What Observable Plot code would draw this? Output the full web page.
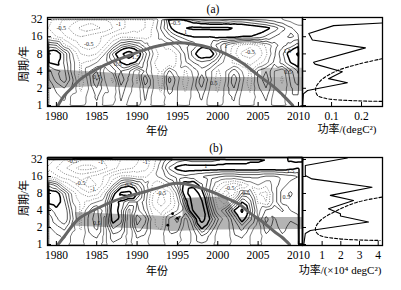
<!DOCTYPE html>
<html><head><meta charset="utf-8">
<script src="https://cdn.jsdelivr.net/npm/d3@7"></script>
<script src="https://cdn.jsdelivr.net/npm/@observablehq/plot@0.6"></script>
<style>
body{margin:0;background:#fff;}
#wrap{position:relative;width:401px;height:290px;overflow:hidden;font-family:"Liberation Serif","Noto Sans CJK SC",serif;color:#000;}
#wrap svg{overflow:visible !important;}
#wrap svg, #wrap svg text{font-family:"Liberation Serif",serif !important;}
.p{position:absolute;}
.lbl{position:absolute;font-size:11px;white-space:nowrap;transform:translate(-50%,-50%);line-height:1;font-family:"Liberation Serif","Noto Sans CJK SC",serif;}
</style></head><body><div id="wrap"></div>
<script>
// ---------- data ----------
const years = [1979,1980,1981,1982,1983,1984,1985,1986,1987,1988,1989,1990,1991,1992,1993,1994,1995,1996,1997,1998,1999,2000,2001,2002,2003,2004,2005,2006,2007,2008,2009,2010];
const periods = [32, 22.6, 16, 11.3, 8, 5.66, 4, 2.83, 2, 1.41, 1];
const xTicks = [1980, 1985, 1990, 1995, 2000, 2005, 2010];
const yTicks = [1, 2, 4, 8, 16, 32];

// panel (a) wavelet coefficient grid, rows = periods (top to bottom), cols = years
const gridA = [
  [-0.4,-0.6,-0.8,-0.9,-1.0,-1.1,-1.1,-1.0,-0.9,-0.8,-0.7,-0.6,-0.5,-0.3, 0.2,1.1,1.3,0.9,0.6,0.4,0.3,0.3,0.4,0.5,0.5,0.4,0.3,0.2,0.1,0.0,-0.1,-0.2],
  [-0.5,-0.7,-0.9,-1.1,-1.3,-1.4,-1.3,-1.2,-1.0,-0.8,-0.7,-0.6,-0.5,-0.2, 0.3,0.9,1.3,1.5,1.6,1.6,1.6,1.6,1.6,1.5,1.4,1.3,1.2,1.1,0.9,0.6,0.3,0.1],
  [-0.3,-0.5,-0.7,-0.9,-1.0,-0.9,-0.8,-0.7,-0.5,-0.3,-0.3,-0.4,-0.4,-0.2, 0.1,0.4,0.7,0.9,1.0,1.0,1.0,1.1,1.1,1.1,1.0,1.0,0.9,0.7,0.5,0.3,0.2,0.3],
  [0.6,0.5,-0.2,-0.5,-0.8,-0.9,-0.8,-0.5,0.0,0.5,0.7,0.5,0.1,-0.2, -0.3,-0.1,0.2,0.4,0.6,0.9,0.8,0.4,0.0,-0.3,-0.6,-0.7,-0.5,-0.2,0.1,0.4,0.6,0.9],
  [1.2,1.3,0.7,0.0,-0.5,-0.6,-0.5,0.0,0.8,1.4,1.8,1.3,0.6,0.0, -0.4,-0.5,-0.2,0.3,0.9,1.3,1.3,0.7,0.0,-0.4,-0.8,-0.9,-0.7,-0.3,0.2,0.7,1.2,1.6],
  [1.0,1.1,0.7,0.1,-0.3,-0.2,0.0,0.1,0.5,1.0,1.2,0.9,0.4,-0.2, -0.5,-0.5,-0.2,0.2,0.5,0.7,0.6,0.2,-0.1,-0.3,-0.5,-0.6,-0.4,-0.1,0.3,0.6,1.0,1.3],
  [0.4,0.7,0.8,0.1,-0.3,0.2,0.5,-0.1,0.1,0.5,0.3,-0.2,0.3,-0.1, -0.3,0.3,-0.1,-0.3,0.1,0.4,0.1,-0.3,0.0,0.4,0.0,-0.3,0.3,0.5,0.0,-0.2,0.4,0.8],
  [0.2,0.6,0.9,0.3,-0.4,0.1,0.8,0.0,-0.3,0.7,0.2,-0.3,0.7,0.0, -0.4,0.6,0.1,-0.4,0.0,0.7,0.1,-0.4,0.0,0.7,0.1,-0.4,0.3,0.7,0.0,-0.3,0.3,0.7],
  [0.1,0.3,0.5,0.2,-0.3,0.0,0.5,0.1,-0.2,0.4,0.1,-0.2,0.4,0.0, -0.3,0.4,0.0,-0.3,0.1,0.5,0.0,-0.3,0.1,0.5,0.0,-0.3,0.2,0.5,0.0,-0.2,0.2,0.4],
  [0.0,0.2,0.3,-0.1,-0.2,0.1,0.3,-0.1,-0.1,0.3,0.0,-0.2,0.3,-0.1, -0.2,0.2,0.0,-0.2,0.1,0.3,-0.1,-0.2,0.1,0.3,-0.1,-0.2,0.1,0.3,-0.1,-0.1,0.2,0.2],
  [0.1,0.1,0.2,-0.1,-0.1,0.1,0.2,-0.1,0.0,0.2,-0.1,-0.1,0.2,-0.1, -0.1,0.1,0.0,-0.1,0.1,0.2,-0.1,-0.1,0.1,0.2,-0.1,-0.1,0.1,0.2,-0.1,-0.1,0.1,0.1]
];
// panel (b)
const gridB = [
  [-0.6,-0.8,-1.0,-1.1,-1.2,-1.3,-1.3,-1.2,-1.1,-1.0,-0.9,-0.8,-0.6,-0.4, 0.0,0.4,0.6,0.7,0.6,0.6,0.6,0.7,0.8,0.8,0.8,0.9,0.9,1.0,1.1,1.3,1.6,1.7],
  [-0.8,-1.0,-1.2,-1.4,-1.6,-1.6,-1.5,-1.3,-1.1,-0.9,-0.8,-0.7,-0.6,-0.3, 0.2,0.8,1.1,1.2,1.2,1.2,1.2,1.2,1.2,1.2,1.2,1.2,1.2,1.2,1.2,1.2,1.1,1.0],
  [-0.5,-0.7,-0.9,-1.0,-1.1,-1.0,-0.9,-0.7,-0.4,-0.2,-0.2,-0.3,-0.3,-0.1, 0.1,0.4,0.6,0.7,0.6,0.5,0.4,0.3,0.2,0.2,0.3,0.3,0.3,0.2,0.2,0.3,0.4,0.5],
  [0.7,0.4,-0.3,-0.6,-0.9,-1.1,-1.0,-0.6,0.0,0.7,0.9,0.6,0.1,-0.3, -0.4,-0.1,0.5,1.2,1.3,0.8,0.3,-0.2,-0.5,-0.7,-0.5,-0.2,0.0,-0.2,0.1,0.4,0.6,0.5],
  [1.3,1.2,0.6,-0.1,-0.5,-0.7,-0.6,-0.1,0.8,1.6,1.7,1.0,0.2,-0.5, -0.8,-0.6,0.1,1.3,2.0,1.2,0.2,-0.5,-0.9,-0.6,0.3,0.2,-0.5,-0.6,0.1,0.6,0.8,0.6],
  [1.1,1.2,0.8,0.0,-0.3,-0.2,0.0,0.2,1.2,0.9,0.5,0.5,0.1,-0.6, -0.9,-0.6,-0.1,0.8,1.8,1.6,0.4,-0.4,-0.6,0.2,1.0,0.6,-0.3,-0.5,0.1,0.6,0.7,0.5],
  [0.6,0.9,1.0,0.2,-0.3,0.2,0.6,0.1,1.3,0.8,-0.1,0.6,0.2,-0.4, -0.6,-0.3,0.0,0.4,1.6,1.9,0.7,-0.2,0.3,1.0,1.6,0.8,-0.1,0.3,0.5,0.2,0.5,0.6],
  [0.3,0.7,1.0,0.3,-0.3,0.3,0.7,-0.1,1.2,0.9,-0.2,0.9,0.6,-0.2, -0.4,0.3,0.6,-0.1,0.6,1.8,1.0,0.3,-0.2,0.5,1.2,0.6,0.0,0.6,0.2,0.5,0.3,0.4],
  [0.2,0.4,0.6,0.1,-0.3,0.3,0.6,-0.1,0.8,0.6,-0.2,0.7,0.4,-0.2, -0.3,0.3,0.4,-0.2,0.3,1.1,0.6,0.0,-0.2,0.3,0.6,0.2,-0.2,0.4,0.1,0.4,0.1,0.2],
  [0.1,0.2,0.3,-0.1,-0.2,0.2,0.3,-0.1,0.4,0.3,-0.2,0.3,0.2,-0.2, -0.1,0.2,0.1,-0.2,0.1,0.5,0.2,-0.1,-0.2,0.2,0.3,0.0,-0.2,0.2,0.0,0.2,0.0,0.1],
  [0.1,0.1,0.1,-0.1,-0.1,0.1,0.1,-0.1,0.2,0.1,-0.1,0.1,0.1,-0.1, -0.1,0.1,0.0,-0.1,0.1,0.2,0.1,-0.1,-0.1,0.1,0.1,0.0,-0.1,0.1,0.0,0.1,0.0,0.1]
];

// contour level labels (year, period, text)
const labYearA = [1980.6,1987.7,1984.0,1989.8,1987.6,1994.8,2001.0,2004.0,2008.6,1985.0,1999.5,2008.7,1996.0];
const labPerA  = [23,27,12,7,5.3,28,11,8.5,9,3.2,2.5,3.8,19];
const labTxtA  = ["-0.5","-1","-0.5","1.5","0.5","-0.5","1","-0.5","1.5","0.5","0.5","0.5","1"];
const labYearB = [1982.0,1985.5,1991.0,1983.0,1984.5,1989.0,1993.0,1998.5,2003.5,2009.0,1985.0,2008.5,2001.5];
const labPerB  = [30,29,29,12,9.5,11.5,8,24,8,20,2.4,7,10];
const labTxtB  = ["-0.5","-1","-1","-0.5","-1","0.5","-0.5","1","0.5","1.5","0.5","0.5","-0.5"];

// cone of influence (year, period)
const coiYearA = [1980.2,1981,1982,1983,1985,1987,1989,1991,1993,1995,1997,1999,2001,2003,2005,2007,2008,2009.3];
const coiPerA  = [1,1.5,2.1,2.9,4.3,5.9,7.5,9.5,11.3,12.5,11.8,10.3,8,5.6,3.4,2.1,1.55,1];
const coiYearB = [1980.2,1981,1982.7,1985,1987,1989,1991,1993,1994.5,1996,1998.5,2000.5,2002.7,2004,2005.5,2007,2008,2008.9];
const coiPerB  = [1,1.4,2.8,4.3,5.8,7.2,8.6,10.5,12,11.8,9.4,7.2,5.1,3.6,2.55,1.7,1.33,1];

// shaded bands (year, low period, high period)
const bandYearA = [1978.9,1985,1990,1995,2000,2005,2010.5];
const bandLoA   = [1.95,2.15,2.0,1.8,1.75,1.75,1.75];
const bandHiA   = [4.3,3.8,3.5,3.2,3.1,3.1,3.1];
const boxYearA  = [2005.4,2010.5];
const boxLoA    = [3.1,3.1];
const boxHiA    = [4.5,4.5];
const bandYearB = [1982.4,1990,1994.4,2000,2010.5];
const bandLoB   = [2.1,1.9,1.7,1.8,1.85];
const bandHiB   = [3.7,3.3,3.1,3.0,3.0];
const boxYearB  = [1995.7,2001,2002.6];
const boxLoB    = [3.0,3.0,3.0];
const boxHiB    = [6.5,7.0,3.0];
const dotYearB  = [1994.4,1995.0,1993.8];
const dotPerB   = [3.5,2.9,2.2];

// global wavelet spectrum (period, power) and significance
const gwsPerA = [28,25,18.2,14,10.2,5.7,5.3,3.9,2.95,2.5,1.83,1.6,1];
const gwsPowA = [0.275,0.107,0.024,0.036,0.213,0.04,0.045,0.136,0.09,0.153,0.02,0.006,0.003];
const sigPerA = [6.6,5.3,4.1,3.3,2.7,2.0,1.5,1.35,1.27,1.2,1.18];
const sigPowA = [0.27,0.19,0.12,0.085,0.063,0.047,0.053,0.075,0.107,0.2,0.27];
const gwsPerB = [34,25,16.7,14.5,10.3,7.4,6,4.3,3.5,3.2,2.5,1.77,1.56,1];
const gwsPowB = [2.35,0.1,0.1,0.46,3.67,1.44,2.68,1.34,1.98,1.98,3.48,0.37,0.1,0.02];
const sigPerB = [6.9,5.6,4.0,2.66,1.9,1.5,1.27,1.18];
const sigPowB = [4.2,2.87,1.8,0.91,0.64,0.8,1.8,4.1];

// ---------- build ----------
const serif = "Liberation Serif";
function gridPoints(grid){
  const pts = [];
  grid.forEach((row, r) => row.forEach((v, c) => pts.push({x: years[c], y: periods[r], v})));
  return pts;
}
function zipXY(xs, ys){ return xs.map((x,i)=>({x, y: ys[i]})); }

function mainPlot(grid, coiX, coiY, bX, bLo, bHi, xX, xLo, xHi, boxFill, dots, labs, mb){
  const pts = gridPoints(grid);
  const band = bX.map((x,i)=>({x, lo:bLo[i], hi:bHi[i]}));
  const box = xX.map((x,i)=>({x, lo:xLo[i], hi:xHi[i]}));
  const coi = zipXY(coiX, coiY);
  const c = {x:"x", y:"y", value:"v", interpolate:"barycentric", pixelSize: 1};
  return Plot.plot({
    width: 305, height: 125, marginLeft: 47, marginRight: 3, marginTop: 17, marginBottom: mb,
    style: {fontFamily: serif, fontSize: "11px", background: "transparent", color: "#000", overflow: "visible"},
    x: {domain: [1978.9, 2010.5]},
    y: {type: "log", base: 2, domain: [0.96, 34.7]},
    marks: [
      Plot.areaY(band, {x:"x", y1:"lo", y2:"hi", fill:"#b4b4b4"}),
      Plot.areaY(box, {x:"x", y1:"lo", y2:"hi", fill: boxFill}),
      Plot.contour(pts, {...c, thresholds:[-1.5,-1.25,-1,-0.75,-0.5,-0.25], stroke:"#6a6a6a", strokeWidth:0.75, strokeDasharray:"1.1,1.3"}),
      Plot.contour(pts, {...c, thresholds:[0], stroke:"#222", strokeWidth:0.6}),
      Plot.contour(pts, {...c, thresholds:[0.25,0.5,0.75], stroke:"#111", strokeWidth:0.7}),
      Plot.contour(pts, {...c, thresholds:[1,1.5], stroke:"#000", strokeWidth:1.5}),
      dots ? Plot.dot(dots, {x:"x", y:"y", r:1.4, fill:"#000"}) : null,
      Plot.text(labs, {x:"x", y:"y", text:"t", fontSize:6, fill:"#222"}),
      Plot.line(coi, {x:"x", y:"y", stroke:"#666", strokeWidth:3, curve:"catmull-rom"}),
      Plot.frame({stroke:"#000", strokeWidth:1.3}),
      Plot.axisX({ticks: xTicks, tickFormat: d => String(d), tickSize: -4, tickPadding: 9, label: null, fontSize: 11.5}),
      Plot.axisY({ticks: yTicks, tickFormat: d => String(d), tickSize: -4, tickPadding: 9, label: null, fontSize: 11.5})
    ]
  });
}

function sidePlot(gP, gW, sP, sW, xdom, xt, mb){
  const gws = gP.map((y,i)=>({y, x:gW[i]}));
  const sig = sP.map((y,i)=>({y, x:sW[i]}));
  return Plot.plot({
    width: 86, height: 125, marginLeft: 3, marginRight: 3, marginTop: 17, marginBottom: mb,
    style: {fontFamily: serif, fontSize: "11px", background: "transparent", color: "#000", overflow: "visible"},
    x: {domain: xdom},
    y: {type: "log", base: 2, domain: [0.96, 34.7]},
    marks: [
      Plot.line(gws, {x:"x", y:"y", stroke:"#000", strokeWidth:1.1, clip:true}),
      Plot.line(sig, {x:"x", y:"y", stroke:"#000", strokeWidth:1.1, strokeDasharray:"3,2", clip:true, curve:"catmull-rom"}),
      Plot.frame({stroke:"#000", strokeWidth:1.3}),
      Plot.axisX({ticks: xt, tickFormat: d => String(d), tickSize: -4, tickPadding: 9, label: null, fontSize: 11.5}),
      Plot.axisY({ticks: yTicks, tickFormat: () => "", tickSize: -4, label: null})
    ]
  });
}

const wrap = document.getElementById("wrap");
function place(node, left, top){ node.classList.add("p"); node.style.left = left+"px"; node.style.top = top+"px"; wrap.appendChild(node); }
function label(text, x, y, rot, size){
  const d = document.createElement("div"); d.className = "lbl"; d.innerHTML = text;
  d.style.left = x+"px"; d.style.top = y+"px";
  if (size) d.style.fontSize = size+"px";
  if (rot) d.style.transform = "translate(-50%,-50%) rotate(-90deg)";
  wrap.appendChild(d);
}
function labData(xs, ys, ts){ return xs.map((x,i)=>({x, y:ys[i], t:ts[i]})); }

place(mainPlot(gridA, coiYearA, coiPerA, bandYearA, bandLoA, bandHiA, boxYearA, boxLoA, boxHiA, "#c4c4c4", null, labData(labYearA, labPerA, labTxtA), 19), 0, 0);
place(sidePlot(gwsPerA, gwsPowA, sigPerA, sigPowA, [0.003, 0.27], [0.1, 0.2], 19), 299, 0);
place(mainPlot(gridB, coiYearB, coiPerB, bandYearB, bandLoB, bandHiB, boxYearB, boxLoB, boxHiB, "#a4a4a4", zipXY(dotYearB, dotPerB), labData(labYearB, labPerB, labTxtB), 20), 0, 140);
place(sidePlot(gwsPerB, gwsPowB, sigPerB, sigPowB, [-0.05, 4.23], [1, 2, 3, 4], 20), 299, 140);

label("(a)", 213, 10, false, 11.5);
label("(b)", 216, 149, false, 11.5);
label("周期/年", 24, 64, true, 11);
label("周期/年", 24, 198, true, 11);
label("年份", 157, 131, false, 11);
label("年份", 157, 271, false, 11);
label("功率/(degC²)", 347, 129, false, 11);
label("功率/(×10⁴ degC²)", 340, 270, false, 11);
</script></body></html>
